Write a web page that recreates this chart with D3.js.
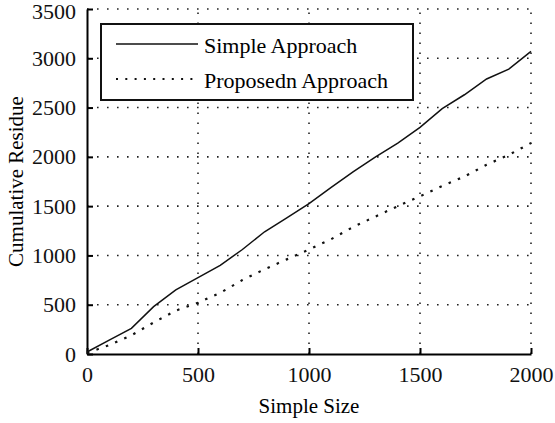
<!DOCTYPE html>
<html>
<head>
<meta charset="utf-8">
<script src="https://cdn.jsdelivr.net/npm/d3@7"></script>
<style>
  body { margin: 0; background: #fff; }
  svg { display: block; font-family: "Liberation Serif", "Times New Roman", serif; }
</style>
</head>
<body>
<div id="chart"></div>
<script>
// sample sizes and cumulative residue
const sampleSize = [0, 100, 200, 300, 400, 500, 600, 700, 800, 900, 1000,
    1100, 1200, 1300, 1400, 1500, 1600, 1700, 1800, 1900, 2000];
const simpleApproach = [20, 140, 260, 480, 650, 775, 900, 1060, 1240, 1380, 1525,
    1690, 1850, 2000, 2140, 2300, 2490, 2630, 2790, 2890, 3070];
const proposedApproach = [10, 90, 190, 320, 440, 520, 620, 750, 860, 960, 1060,
    1165, 1290, 1395, 1500, 1600, 1705, 1800, 1920, 2020, 2140];
const xTicks = [0, 500, 1000, 1500, 2000];
const yTicks = [0, 500, 1000, 1500, 2000, 2500, 3000, 3500];

const width = 555;
const height = 423;
const marginTop = 9;
const marginRight = 24;
const marginBottom = 69;
const marginLeft = 87;

const svg = d3.select("#chart").append("svg")
    .attr("width", width)
    .attr("height", height);

const x = d3.scaleLinear([0, 2000], [marginLeft, width - marginRight]);
const y = d3.scaleLinear([0, 3500], [height - marginBottom, marginTop]);

// dotted grid
const grid = svg.append("g")
    .attr("stroke", "#222")
    .attr("stroke-width", 1.6)
    .attr("stroke-dasharray", "1.6 8.4");
grid.selectAll(".gx").data(xTicks.filter(d => d > 0)).join("line")
    .attr("x1", d => x(d)).attr("x2", d => x(d))
    .attr("y1", y(0)).attr("y2", y(3500));
grid.selectAll(".gy").data(yTicks.filter(d => d > 0)).join("line")
    .attr("x1", x(0)).attr("x2", x(2000))
    .attr("y1", d => y(d)).attr("y2", d => y(d));

// axes, ticks pointing inward
svg.append("g")
    .attr("transform", `translate(0,${y(0)})`)
    .call(d3.axisBottom(x).tickValues(xTicks).tickFormat(d3.format("d"))
        .tickSize(-6).tickPadding(12).tickSizeOuter(0))
    .call(g => g.select(".domain").attr("stroke-width", 2))
    .call(g => g.selectAll(".tick line").attr("stroke-width", 2))
    .call(g => g.selectAll(".tick text").attr("font-size", 22).attr("fill", "#111")
        .attr("font-family", "Liberation Serif"));

svg.append("g")
    .attr("transform", `translate(${x(0)},0)`)
    .call(d3.axisLeft(y).tickValues(yTicks).tickFormat(d3.format("d"))
        .tickSize(-6).tickPadding(11).tickSizeOuter(0))
    .call(g => g.select(".domain").attr("stroke-width", 2))
    .call(g => g.selectAll(".tick line").attr("stroke-width", 2))
    .call(g => g.selectAll(".tick text").attr("font-size", 22).attr("fill", "#111")
        .attr("font-family", "Liberation Serif")
        .attr("dy", d => d === 3500 ? "0.42em" : "0.32em"));

// axis labels
svg.append("text")
    .attr("x", (x(0) + x(2000)) / 2)
    .attr("y", 413)
    .attr("text-anchor", "middle")
    .attr("font-size", 21)
    .text("Simple Size");

svg.append("text")
    .attr("transform", `translate(23,${(y(0) + y(3500)) / 2}) rotate(-90)`)
    .attr("text-anchor", "middle")
    .attr("font-size", 21)
    .text("Cumulative Residue");

// lines
const line = d3.line()
    .x((d, i) => x(sampleSize[i]))
    .y(d => y(d));

svg.append("path")
    .attr("fill", "none")
    .attr("stroke", "#111")
    .attr("stroke-width", 1.5)
    .attr("d", line(simpleApproach));

svg.append("path")
    .attr("fill", "none")
    .attr("stroke", "#111")
    .attr("stroke-width", 2.2)
    .attr("stroke-dasharray", "2.5 7.5")
    .attr("d", line(proposedApproach));

// legend
const legend = svg.append("g");
legend.append("rect")
    .attr("x", 101).attr("y", 24)
    .attr("width", 312).attr("height", 76)
    .attr("fill", "#fff")
    .attr("stroke", "#111")
    .attr("stroke-width", 2);

const legendItems = [
    { label: "Simple Approach", dash: null, w: 1.5 },
    { label: "Proposedn Approach", dash: "2 7.3", w: 2 }
];
legendItems.forEach((d, i) => {
    const ly = 44 + i * 35;
    legend.append("line")
        .attr("x1", 116).attr("x2", 198)
        .attr("y1", ly).attr("y2", ly)
        .attr("stroke", "#111")
        .attr("stroke-width", d.w)
        .attr("stroke-dasharray", d.dash);
    legend.append("text")
        .attr("x", 204).attr("y", ly + 9)
        .attr("font-size", 22)
        .text(d.label);
});
</script>
</body>
</html>
